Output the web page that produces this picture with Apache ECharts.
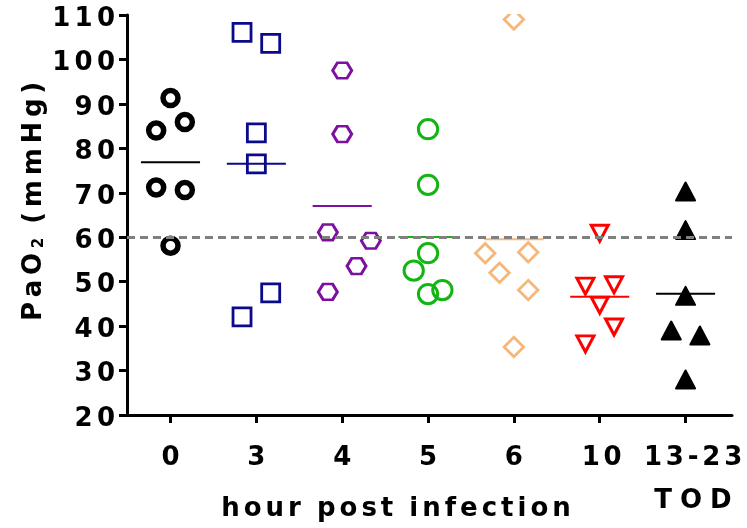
<!DOCTYPE html>
<html>
<head>
<meta charset="utf-8">
<script src="https://cdn.jsdelivr.net/npm/echarts@6/dist/echarts.min.js"></script>
<style>
  html, body { margin: 0; padding: 0; background: #fff; }
  #chart { width: 747px; height: 528px; }
</style>
</head>
<body>
<div id="chart"></div>
<script>
// Time points (hours post infection); the last group is time of death
const groupLabels = ['0', '3', '4', '5', '6', '10', '13-23'];
const yTickMin = 20;
const yTickMax = 110;
const yTickStep = 10;
const hypoxiaThreshold = 60;

// PaO2 (mmHg) per animal, with the horizontal jitter slot of each point
const pao2_h0 = [91.3, 85.9, 84.0, 71.2, 70.6, 58.1];
const slot_h0 = [0, 1, -1, -1, 1, 0];
const pao2_h3 = [106.1, 103.6, 83.5, 76.5, 47.5, 42.1];
const slot_h3 = [-1, 1, 0, 0, 1, -1];
const pao2_h4 = [97.5, 83.2, 61.1, 59.2, 53.5, 47.7];
const slot_h4 = [0, 0, -1, 2, 1, -1];
const pao2_h5 = [84.3, 71.8, 56.4, 52.5, 48.1, 47.2];
const slot_h5 = [0, 0, 0, -1, 1, 0];
const pao2_h6 = [109.0, 56.4, 56.6, 52.0, 48.1, 35.3];
const slot_h6 = [0, -2, 1, -1, 1, 0];
const pao2_h10 = [60.9, 49.0, 49.3, 44.7, 39.8, 36.0];
const slot_h10 = [0, -1, 1, 0, 1, -1];
const pao2_tod = [70.3, 61.6, 46.8, 39.0, 37.9, 28.0];
const slot_tod = [0, 0, 0, -1, 1, 0];

const groupValues = [pao2_h0, pao2_h3, pao2_h4, pao2_h5, pao2_h6, pao2_h10, pao2_tod];
const groupSlots = [slot_h0, slot_h3, slot_h4, slot_h5, slot_h6, slot_h10, slot_tod];

// Marker styling per group
const hexagon = 'path://M0,10 L5,0 L15,0 L20,10 L15,20 L5,20 Z';
const groupStyles = [
  { color: '#000000', symbol: 'circle',   size: 15,         border: 5.5 },
  { color: '#0a0a8a', symbol: 'rect',     size: 18,         border: 2.8 },
  { color: '#7b119e', symbol: hexagon,    size: [19, 15.6], border: 2.8 },
  { color: '#12b512', symbol: 'circle',   size: 19.3,       border: 3 },
  { color: '#f5b77a', symbol: 'diamond',  size: 19.5,       border: 2.8 },
  { color: '#ff0000', symbol: 'triangle', size: [17, 16],   border: 3, rotate: 180 },
  { color: '#000000', symbol: 'triangle', size: [19, 18],   border: 2, filled: true }
];

const SLOT_WIDTH = 0.167;   // jitter step, in category units
const MEAN_HALF = 0.344;    // half length of the mean bar, in category units
const FONT = "'DejaVu Sans', 'Liberation Sans', sans-serif";

// Wide letter spacing is made with small space tokens between characters
function spaced(str, key) {
  return str.split('').map(ch => (ch === ' ' ? '{' + key + '| }{' + key + '| }' : ch)).join('{' + key + '| }');
}
function gapStyle(px) {
  return { fontSize: px / 0.348, fontFamily: FONT, fontWeight: 'bold' };
}

const mean = arr => arr.reduce((a, b) => a + b, 0) / arr.length;

const series = [];
groupValues.forEach((vals, gi) => {
  const st = groupStyles[gi];
  series.push({
    name: groupLabels[gi],
    type: 'scatter',
    z: 2,
    symbol: st.symbol,
    symbolSize: st.size,
    symbolRotate: st.rotate || 0,
    itemStyle: {
      opacity: 1,
      color: st.filled ? st.color : 'rgba(255,255,255,0)',
      borderColor: st.color,
      borderWidth: st.border,
      borderJoin: st.filled ? 'round' : 'miter'
    },
    emphasis: { disabled: true },
    data: vals.map((v, i) => [gi + groupSlots[gi][i] * SLOT_WIDTH, v])
  });
  const m = mean(vals);
  series.push({
    name: groupLabels[gi] + ' mean',
    type: 'line',
    z: 3,
    silent: true,
    symbol: 'none',
    lineStyle: { color: st.color, width: 2, opacity: 1 },
    data: [[gi - MEAN_HALF, m], [gi + MEAN_HALF, m]]
  });
});

// Dashed 60 mmHg reference line
series.push({
  name: 'threshold',
  type: 'line',
  z: 6,
  data: [],
  markLine: {
    silent: true,
    symbol: 'none',
    animation: false,
    label: { show: false },
    lineStyle: { color: '#808080', width: 3, type: [8, 5], opacity: 1 },
    data: [{ yAxis: hypoxiaThreshold }]
  }
});

const categoryIndex = groupLabels.map((_, i) => i);

const option = {
  animation: false,
  backgroundColor: '#fff',
  grid: { left: 127, right: 15, top: 15, bottom: 113, outerBoundsMode: 'none' },
  xAxis: {
    type: 'value',
    min: -0.507,
    max: 6.541,
    splitLine: { show: false },
    axisLine: { show: true, onZero: false, lineStyle: { color: '#000', width: 3 } },
    axisTick: { show: true, customValues: categoryIndex, length: 8, lineStyle: { color: '#000', width: 3 } },
    axisLabel: {
      customValues: categoryIndex,
      margin: 30,
      color: '#000',
      fontFamily: FONT,
      fontWeight: 'bold',
      fontSize: 26,
      formatter: v => {
        const s = groupLabels[Math.round(v)];
        return '{g| }'.repeat(s.length - 1) + spaced(s, 'g');
      },
      rich: { g: gapStyle(3.8) }
    }
  },
  yAxis: {
    type: 'value',
    min: yTickMin,
    max: yTickMax,
    interval: yTickStep,
    splitLine: { show: false },
    axisLine: { show: true, onZero: false, lineStyle: { color: '#000', width: 3 } },
    axisTick: { show: true, length: 8, lineStyle: { color: '#000', width: 3 } },
    axisLabel: {
      margin: 12,
      color: '#000',
      fontFamily: FONT,
      fontWeight: 'bold',
      fontSize: 26,
      padding: [8, 0, 0, 0],
      showMinLabel: true,
      showMaxLabel: true,
      formatter: v => spaced(String(v), 'g'),
      rich: { g: gapStyle(4.2) }
    }
  },
  graphic: [
    {
      // hide symbol parts above the top of the plot area
      type: 'rect', z: 100, silent: true,
      shape: { x: 129, y: 0, width: 618, height: 14 },
      style: { fill: '#fff' }
    },
    {
      type: 'text', z: 101, x: 34, y: 201.5, rotation: Math.PI / 2,
      style: {
        text: spaced('PaO', 'g') + '{g| }{s|2}{g| }' + spaced(' (mmHg)', 'g').replace(/^\{g\| \}/, ''),
        fill: '#000', fontFamily: FONT, fontWeight: 'bold', fontSize: 26,
        align: 'center', verticalAlign: 'middle',
        rich: {
          g: gapStyle(4.7),
          s: { fontSize: 15, fontFamily: FONT, fontWeight: 'bold', verticalAlign: 'bottom' }
        }
      }
    },
    {
      type: 'text', z: 101, x: 396, y: 509,
      style: {
        text: spaced('hour post infection', 'g'),
        fill: '#000', fontFamily: FONT, fontWeight: 'bold', fontSize: 26,
        align: 'center', verticalAlign: 'middle',
        rich: { g: gapStyle(4) }
      }
    },
    {
      type: 'text', z: 101, x: 693, y: 501,
      style: {
        text: spaced('TOD', 'g'),
        fill: '#000', fontFamily: FONT, fontWeight: 'bold', fontSize: 26,
        align: 'center', verticalAlign: 'middle',
        rich: { g: gapStyle(8) }
      }
    }
  ],
  series: series
};

const chart = echarts.init(document.getElementById('chart'), null, { renderer: 'canvas' });
chart.setOption(option);
</script>
</body>
</html>
